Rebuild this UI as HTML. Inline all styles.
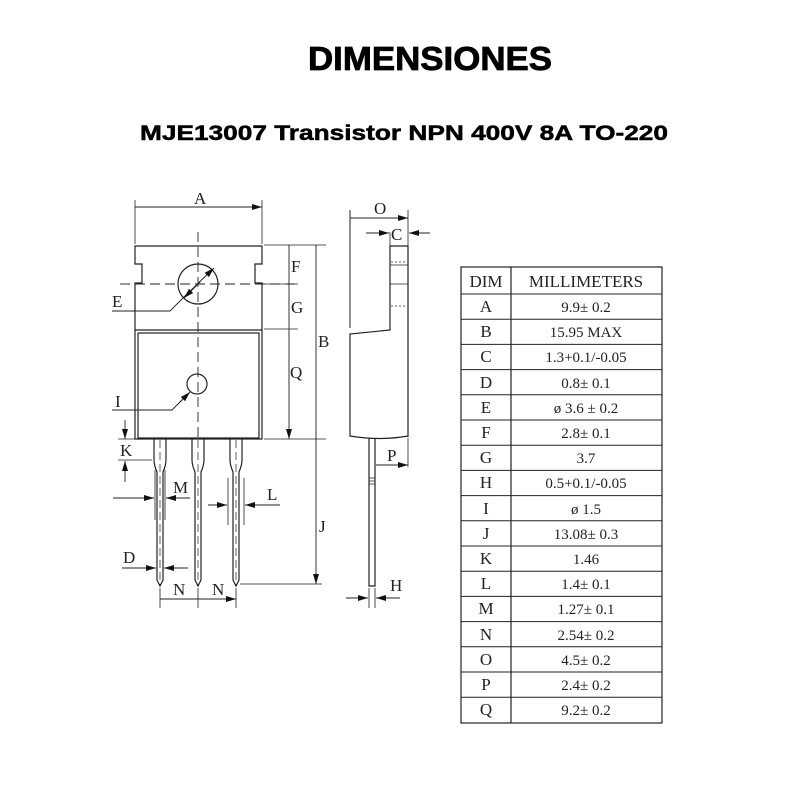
<!DOCTYPE html>
<html><head><meta charset="utf-8"><style>
html,body{margin:0;padding:0;background:#fff;width:800px;height:800px;overflow:hidden}
svg{display:block}
.t{font-family:"Liberation Serif",serif;font-size:17px;fill:#222}
.c{font-family:"Liberation Serif",serif;font-size:15px;fill:#222;text-anchor:middle}
</style></head><body>
<svg width="800" height="800" viewBox="0 0 800 800" xmlns="http://www.w3.org/2000/svg">
<defs>
<marker id="a" viewBox="0 0 10 6" refX="10" refY="3" markerWidth="10" markerHeight="6" markerUnits="userSpaceOnUse" orient="auto"><path d="M0,0L10,3L0,6z" fill="#111"/></marker>
</defs>
<text x="430" y="70" font-family="Liberation Sans,sans-serif" font-weight="bold" font-size="33" text-anchor="middle" textLength="244" lengthAdjust="spacingAndGlyphs" stroke="#000" stroke-width="0.8">DIMENSIONES</text>
<text x="404" y="140" font-family="Liberation Sans,sans-serif" font-weight="bold" font-size="21" text-anchor="middle" textLength="528" lengthAdjust="spacingAndGlyphs" stroke="#000" stroke-width="0.5">MJE13007 Transistor NPN 400V 8A TO-220</text>

<g stroke="#222" fill="none" stroke-width="1.2">
<path d="M135,246 H262 V264 H255 V283 H262 V330 H135 V283 H142 V264 H135 Z"/>
<path d="M135,330 V439 H262 V330"/>
<rect x="138" y="333" width="121" height="105"/>
<circle cx="198" cy="284" r="20"/>
<circle cx="197" cy="384" r="10"/>
<path d="M120,284 H300" stroke-dasharray="10,5" stroke-width="0.9"/>
<path d="M198,232 V440" stroke-dasharray="10,5" stroke-width="0.9"/>
<path d="M135,244 V200 M262,244 V200" stroke-width="0.8"/>
<path d="M165,207 H135 M230,207 H262" marker-end="url(#a)" stroke-width="0.9"/>
<path d="M165,207 H230" stroke-width="0.9"/>
<path d="M112,311 H170 L186,295" stroke-width="0.9"/>
<path d="M186,295 L214,268" marker-end="url(#a)" stroke-width="0.9"/>
<path d="M200,282 L184,298" marker-end="url(#a)" stroke-width="0.9"/>
<path d="M112,410 H172 L182,400" stroke-width="0.9"/>
<path d="M180,402 L190,392" marker-end="url(#a)" stroke-width="0.9"/>
<path d="M264,245 H326 M264,284 H298 M264,329 H298 M264,439 H326" stroke-width="0.8"/>
<path d="M289,265 V245 M289,265 V284 M289,306 V284 M289,306 V329 M289,385 V329 M289,385 V439" marker-end="url(#a)" stroke-width="0.9"/>
<path d="M316,340 V245 M316,340 V439 M316,510 V439 M316,510 V584" marker-end="url(#a)" stroke-width="0.9"/>
<path d="M240,584 H322" stroke-width="0.8"/>
<g id="ld">
<path d="M154,439 V460 Q154,465 157,472 V580 L160,586 L163,580 V472 Q166,465 166,460 V439"/>
<path d="M160,440 V585" stroke-dasharray="8,4" stroke-width="0.7"/>
</g>
<use href="#ld" x="38"/>
<use href="#ld" x="76"/>
<path d="M118,439 H135 M118,460 H152" stroke-width="0.8"/>
<path d="M125,420 V439" marker-end="url(#a)" stroke-width="0.9"/>
<path d="M125,482 V461" marker-end="url(#a)" stroke-width="0.9"/>
<path d="M155,470 V520 M165,470 V520" stroke-width="0.8"/>
<path d="M113,498 H154" marker-end="url(#a)" stroke-width="0.9"/>
<path d="M190,498 H166" marker-end="url(#a)" stroke-width="0.9"/>
<path d="M228,478 V525 M244,478 V525" stroke-width="0.8"/>
<path d="M208,505 H227" marker-end="url(#a)" stroke-width="0.9"/>
<path d="M280,505 H245" marker-end="url(#a)" stroke-width="0.9"/>
<path d="M122,568 H156" marker-end="url(#a)" stroke-width="0.9"/>
<path d="M188,568 H164" marker-end="url(#a)" stroke-width="0.9"/>
<path d="M160,588 V608 M198,588 V608 M236,588 V608" stroke-width="0.8"/>
<path d="M179,599 H160 M179,599 H198 M217,599 H198 M217,599 H236" marker-end="url(#a)" stroke-width="0.9"/>

<path d="M350,210 V328" stroke-width="1"/>
<path d="M390,246 H408 V437 M390,246 V330 L350,334 V436 Q380,441 408,436"/>
<path d="M390,265 H408 M390,284 H408" stroke-width="0.8"/>
<path d="M391,262 H407 M391,306 H407" stroke-dasharray="2,2" stroke-width="0.8"/>
<path d="M369,438 V586 H375 V438"/>
<path d="M369,478 H375 M369,481 H375 M369,484 H375" stroke-width="0.7"/>
<path d="M408,210 V246 M390,232 V246" stroke-width="0.8"/>
<path d="M380,218 H350 M380,218 H408" marker-end="url(#a)" stroke-width="0.9"/>
<path d="M366,233 H389" marker-end="url(#a)" stroke-width="0.9"/>
<path d="M430,233 H409" marker-end="url(#a)" stroke-width="0.9"/>
<path d="M408,438 V467" stroke-width="0.8"/>
<path d="M392,465 H376 M392,465 H408" marker-end="url(#a)" stroke-width="0.9"/>
<path d="M369,588 V608 M375,588 V608" stroke-width="0.8"/>
<path d="M346,598 H368" marker-end="url(#a)" stroke-width="0.9"/>
<path d="M400,598 H376" marker-end="url(#a)" stroke-width="0.9"/>
</g>
<g class="t">
<text x="194" y="204">A</text>
<text x="112" y="307">E</text>
<text x="291" y="272">F</text>
<text x="291" y="313">G</text>
<text x="318" y="347">B</text>
<text x="290" y="378">Q</text>
<text x="115" y="407">I</text>
<text x="120" y="456">K</text>
<text x="173" y="493">M</text>
<text x="267" y="500">L</text>
<text x="123" y="563">D</text>
<text x="319" y="532">J</text>
<text x="173" y="595">N</text>
<text x="212" y="595">N</text>
<text x="374" y="214">O</text>
<text x="391" y="240">C</text>
<text x="387" y="461">P</text>
<text x="390" y="591">H</text>
</g>

<g stroke="#222" fill="none" stroke-width="1.2">
<rect x="461" y="267" width="201" height="456"/>
<path d="M511,267 V723"/>
<path d="M461,294 H662 M461,319.2 H662 M461,344.4 H662 M461,369.6 H662 M461,394.8 H662 M461,420 H662 M461,445.2 H662 M461,470.4 H662 M461,495.6 H662 M461,520.8 H662 M461,546 H662 M461,571.2 H662 M461,596.4 H662 M461,621.6 H662 M461,646.8 H662 M461,672 H662 M461,697.2 H662" stroke-width="1"/>
</g>
<g class="c">
<text x="486" y="287" font-size="17">DIM</text><text x="586" y="287" font-size="17">MILLIMETERS</text>
<text x="486" y="312" font-size="17">A</text><text x="586" y="312">9.9± 0.2</text>
<text x="486" y="337" font-size="17">B</text><text x="586" y="337">15.95 MAX</text>
<text x="486" y="362" font-size="17">C</text><text x="586" y="362">1.3+0.1/-0.05</text>
<text x="486" y="388" font-size="17">D</text><text x="586" y="388">0.8± 0.1</text>
<text x="486" y="413" font-size="17">E</text><text x="586" y="413">ø  3.6  ± 0.2</text>
<text x="486" y="438" font-size="17">F</text><text x="586" y="438">2.8± 0.1</text>
<text x="486" y="463" font-size="17">G</text><text x="586" y="463">3.7</text>
<text x="486" y="488" font-size="17">H</text><text x="586" y="488">0.5+0.1/-0.05</text>
<text x="486" y="514" font-size="17">I</text><text x="586" y="514">ø 1.5</text>
<text x="486" y="539" font-size="17">J</text><text x="586" y="539">13.08± 0.3</text>
<text x="486" y="564" font-size="17">K</text><text x="586" y="564">1.46</text>
<text x="486" y="589" font-size="17">L</text><text x="586" y="589">1.4± 0.1</text>
<text x="486" y="614" font-size="17">M</text><text x="586" y="614">1.27± 0.1</text>
<text x="486" y="640" font-size="17">N</text><text x="586" y="640">2.54± 0.2</text>
<text x="486" y="665" font-size="17">O</text><text x="586" y="665">4.5± 0.2</text>
<text x="486" y="690" font-size="17">P</text><text x="586" y="690">2.4± 0.2</text>
<text x="486" y="715" font-size="17">Q</text><text x="586" y="715">9.2± 0.2</text>
</g>
</svg>
</body></html>
